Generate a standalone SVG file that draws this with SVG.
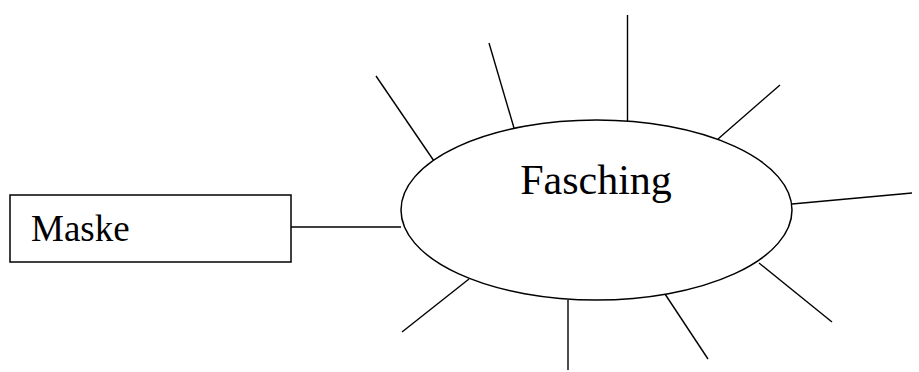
<svg xmlns="http://www.w3.org/2000/svg" width="919" height="372" viewBox="0 0 919 372">
  <style>
    .shape { fill: #ffffff; stroke: #000000; stroke-width: 1.5; }
    .spoke { stroke: #000000; stroke-width: 1.4; fill: none; }
    .label { fill: #000000; font-family: "Liberation Serif", "Times New Roman", Times, serif; }
  </style>
  <rect width="919" height="372" fill="#ffffff"/>

  <!-- connectors: the link to "Maske" and the open spokes around the centre -->
  <g id="connectors">
    <line class="spoke" x1="291" y1="227" x2="401" y2="227"/>
    <line class="spoke" x1="376" y1="76" x2="434" y2="161"/>
    <line class="spoke" x1="489" y1="43" x2="514" y2="128"/>
    <line class="spoke" x1="627.5" y1="15" x2="627.5" y2="121"/>
    <line class="spoke" x1="780" y1="85" x2="718" y2="139"/>
    <line class="spoke" x1="792" y1="204" x2="912" y2="193"/>
    <line class="spoke" x1="759" y1="263" x2="832" y2="322"/>
    <line class="spoke" x1="663" y1="291" x2="708" y2="359"/>
    <line class="spoke" x1="568" y1="300" x2="568" y2="370"/>
    <line class="spoke" x1="469" y1="279" x2="402" y2="332"/>
  </g>

  <g id="fasching">
    <ellipse class="shape" cx="596.5" cy="210" rx="195.5" ry="90"/>
    <text class="label" x="596" y="194" font-size="42" text-anchor="middle">Fasching</text>
  </g>

  <g id="maske">
    <rect class="shape" x="10" y="195" width="281" height="67"/>
    <text class="label" x="31" y="241" font-size="37">Maske</text>
  </g>
</svg>
